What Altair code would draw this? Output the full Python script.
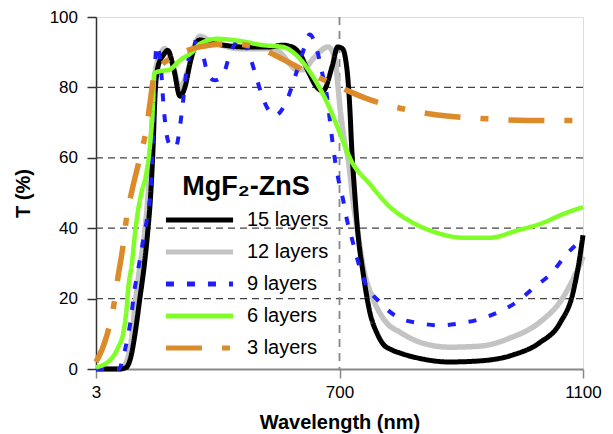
import altair as alt
import pandas as pd

series_names = ["15 layers", "12 layers", "9 layers", "6 layers", "3 layers"]
series_colors = ["#000000", "#c3c3c3", "#1e1efa", "#80ff26", "#dc8b2b"]
series_dashes = [[1, 0], [1, 0], [8, 13], [1, 0], [36, 20, 8, 20]]
series_widths = [5, 5.5, 4, 4.5, 5.5]

# 15 layers
wl_15 = [300, 340, 350, 358, 365, 372, 379, 385, 390, 394, 397, 402, 410, 418, 428, 438, 446, 456,
         470, 490, 510, 540, 585, 607, 622, 635, 650, 663, 673, 688, 697, 705, 710, 714, 717, 720,
         725, 730, 739, 750, 762, 772, 785, 800, 832, 880, 930, 985, 1029, 1062, 1084, 1095, 1100]
t_15 = [0, 0, 0.5, 4, 11, 20, 29, 39, 50, 64, 78, 86, 89, 90.5, 85, 77.5, 80, 88,
        93.5, 92.5, 92, 91.5, 91.5, 92, 91.5, 89.5, 84, 80, 79, 86, 91.5, 91, 88, 82, 74, 63,
        50, 39, 27, 16, 10, 7, 5.5, 4.5, 3, 2, 2.3, 4, 7.5, 13, 22, 32, 38]

# 12 layers
wl_12 = [300, 338, 344, 352, 358, 364, 372, 380, 387, 392, 397, 405, 413, 425, 438, 451, 462, 471,
         485, 499, 536, 591, 605, 619, 630, 640, 656, 670, 681, 692, 696, 701, 709, 714, 722, 729,
         739, 755, 766, 778, 799, 832, 881, 931, 980, 1029, 1066, 1085, 1098, 1100]
t_12 = [0, 0, 0.5, 3, 8, 18, 29, 39, 53, 70, 84, 89, 91, 87, 80, 85, 92, 94.5,
        93.5, 92.5, 91, 91, 89.5, 86.5, 85, 85, 88, 90.5, 91.5, 88.5, 83, 74, 64, 60, 48, 40,
        29, 20, 16, 13, 10.5, 7.6, 6.2, 6.5, 8.8, 13.3, 20, 26, 31, 32]

# 9 layers
wl_9 = [300, 338, 344, 352, 358, 362, 368, 374, 380, 386, 390, 392, 394, 397, 400, 408, 410, 413,
        418, 425, 431, 438, 443, 446, 451, 458, 468, 476, 484, 495, 509, 520, 540, 553, 564, 574,
        594, 615, 627, 638, 651, 664, 671, 679, 686, 692, 698, 706, 712, 720, 730, 742, 766, 796,
        832, 865, 898, 927, 964, 991, 1018, 1049, 1075, 1087]
t_9 = [0, 0, 3, 9, 15, 21, 27, 33, 39, 45, 51, 58, 68, 86, 92, 82.5, 77, 71,
       65, 63, 63, 69, 76, 81, 87, 93, 92, 89, 83.6, 82, 83.6, 89.5, 94, 88.7, 82.5, 77,
       72, 77, 83, 89, 95, 90, 84.5, 78, 68, 60, 54, 48, 42.6, 37.3, 30.8, 24.6, 19, 14.7,
       13, 12.4, 13, 14, 16.4, 19, 22.9, 27.4, 33, 35]

# 6 layers
wl_6 = [300, 323, 336, 345, 350, 353, 359, 364, 370, 376, 382, 389, 393, 396, 402, 420, 440, 458,
        471, 499, 536, 574, 607, 630, 651, 673, 684, 696, 712, 717, 750, 783, 816, 860, 903, 947,
        991, 1034, 1067, 1100]
t_6 = [0.5, 2.5, 6, 10.5, 16.7, 23, 30, 38.4, 46, 51, 55, 64, 73, 84, 84.5, 85, 88, 90,
       92.4, 93.8, 93.2, 92, 91.5, 89, 84.5, 78, 74, 69, 62, 60, 52.5, 46, 42, 38.7, 37.3, 37.3,
       39.3, 41.5, 44, 46]

# 3 layers
wl_3 = [300, 318, 331, 336, 344, 351, 359, 372, 384, 389, 397, 405, 420, 438, 459, 471, 525, 574,
        607, 651, 692, 717, 745, 788, 844, 881, 931, 1008, 1087]
t_3 = [2, 9.6, 20, 26, 34.5, 44, 50.6, 60, 69.5, 76, 84.5, 86, 88, 89.6, 91, 91.5, 92.4, 90.7,
       88, 84, 80.8, 78.8, 76.8, 74.6, 72.6, 71.8, 71.2, 70.6, 70.6]

grid_y = [20, 40, 60, 80]
grid_x = [700]
x_ticks = [300, 700, 1100]
y_ticks = [0, 20, 40, 60, 80, 100]

rows = []
for name, wl, tv in [("15 layers", wl_15, t_15), ("12 layers", wl_12, t_12),
                     ("9 layers", wl_9, t_9), ("6 layers", wl_6, t_6), ("3 layers", wl_3, t_3)]:
    for w, v in zip(wl, tv):
        rows.append({"series": name, "wl": w, "T": v})
df = pd.DataFrame(rows)

FONT = "Liberation Sans"

x_enc = alt.X("wl:Q", scale=alt.Scale(domain=[300, 1100], nice=False, zero=False),
              axis=alt.Axis(values=x_ticks, title="Wavelength (nm)", format="d",
                            labelExpr="datum.value == 300 ? '3' : datum.label",
                            labelFontSize=17, labelFont=FONT, labelColor="black",
                            titleFontSize=20, titleFont=FONT, titleFontWeight="bold", titleColor="black",
                            tickSize=9, tickColor="#888888", tickWidth=1.5,
                            domainColor="#888888", domainWidth=2, grid=False,
                            labelPadding=6, titlePadding=12, labelFlush=False))
y_enc = alt.Y("T:Q", scale=alt.Scale(domain=[0, 100], nice=False),
              axis=alt.Axis(values=y_ticks, title="T (%)",
                            labelFontSize=17, labelFont=FONT, labelColor="black",
                            titleFontSize=20, titleFont=FONT, titleFontWeight="bold", titleColor="black",
                            tickSize=9, tickColor="#333333", tickWidth=1.5,
                            domainColor="#333333", domainWidth=1.5, grid=False,
                            labelPadding=9.5, titlePadding=15.5))

color_enc = alt.Color("series:N", scale=alt.Scale(domain=series_names, range=series_colors),
                      legend=alt.Legend(title="MgF₂-ZnS", orient="none", legendX=67, legendY=157,
                                        symbolType="stroke", symbolSize=4500, symbolStrokeWidth=5,
                                        labelFontSize=20, labelFont=FONT, labelColor="black",
                                        titleFontSize=27, titleFont=FONT, titleFontWeight="bold",
                                        titleColor="black", clipHeight=18, rowPadding=12,
                                        titlePadding=10, labelOffset=11, padding=0,
                                        titleAnchor="middle"))
dash_enc = alt.StrokeDash("series:N", scale=alt.Scale(domain=series_names, range=series_dashes),
                          legend=alt.Legend(title="MgF₂-ZnS"))

gy = alt.Chart(pd.DataFrame({"g": grid_y})).mark_rule(color="#444444", strokeDash=[7, 5], strokeWidth=1.2).encode(
    y=alt.Y("g:Q", scale=alt.Scale(domain=[0, 100], nice=False)))
gx = alt.Chart(pd.DataFrame({"g": grid_x})).mark_rule(color="#888888", strokeDash=[8, 6], strokeWidth=1.8).encode(
    x=alt.X("g:Q", scale=alt.Scale(domain=[300, 1100], nice=False, zero=False)))

order = ["12 layers", "15 layers", "9 layers", "6 layers", "3 layers"]
layers = [gy, gx]
for name in order:
    i = series_names.index(name)
    layers.append(
        alt.Chart(df).transform_filter(alt.datum.series == name)
        .mark_line(interpolate="monotone", strokeWidth=series_widths[i], strokeCap="butt", strokeJoin="round")
        .encode(x=x_enc, y=y_enc, color=color_enc, strokeDash=dash_enc)
    )

chart = alt.layer(*layers).properties(
    width=487, height=352,
    autosize=alt.AutoSizeParams(type="none"),
    padding={"left": 88, "top": 9, "right": 22, "bottom": 67},
).configure_view(stroke="#999999", strokeWidth=1.5).configure(background="white")

chart.save("out.html", embed_options={"renderer": "svg", "actions": False})
